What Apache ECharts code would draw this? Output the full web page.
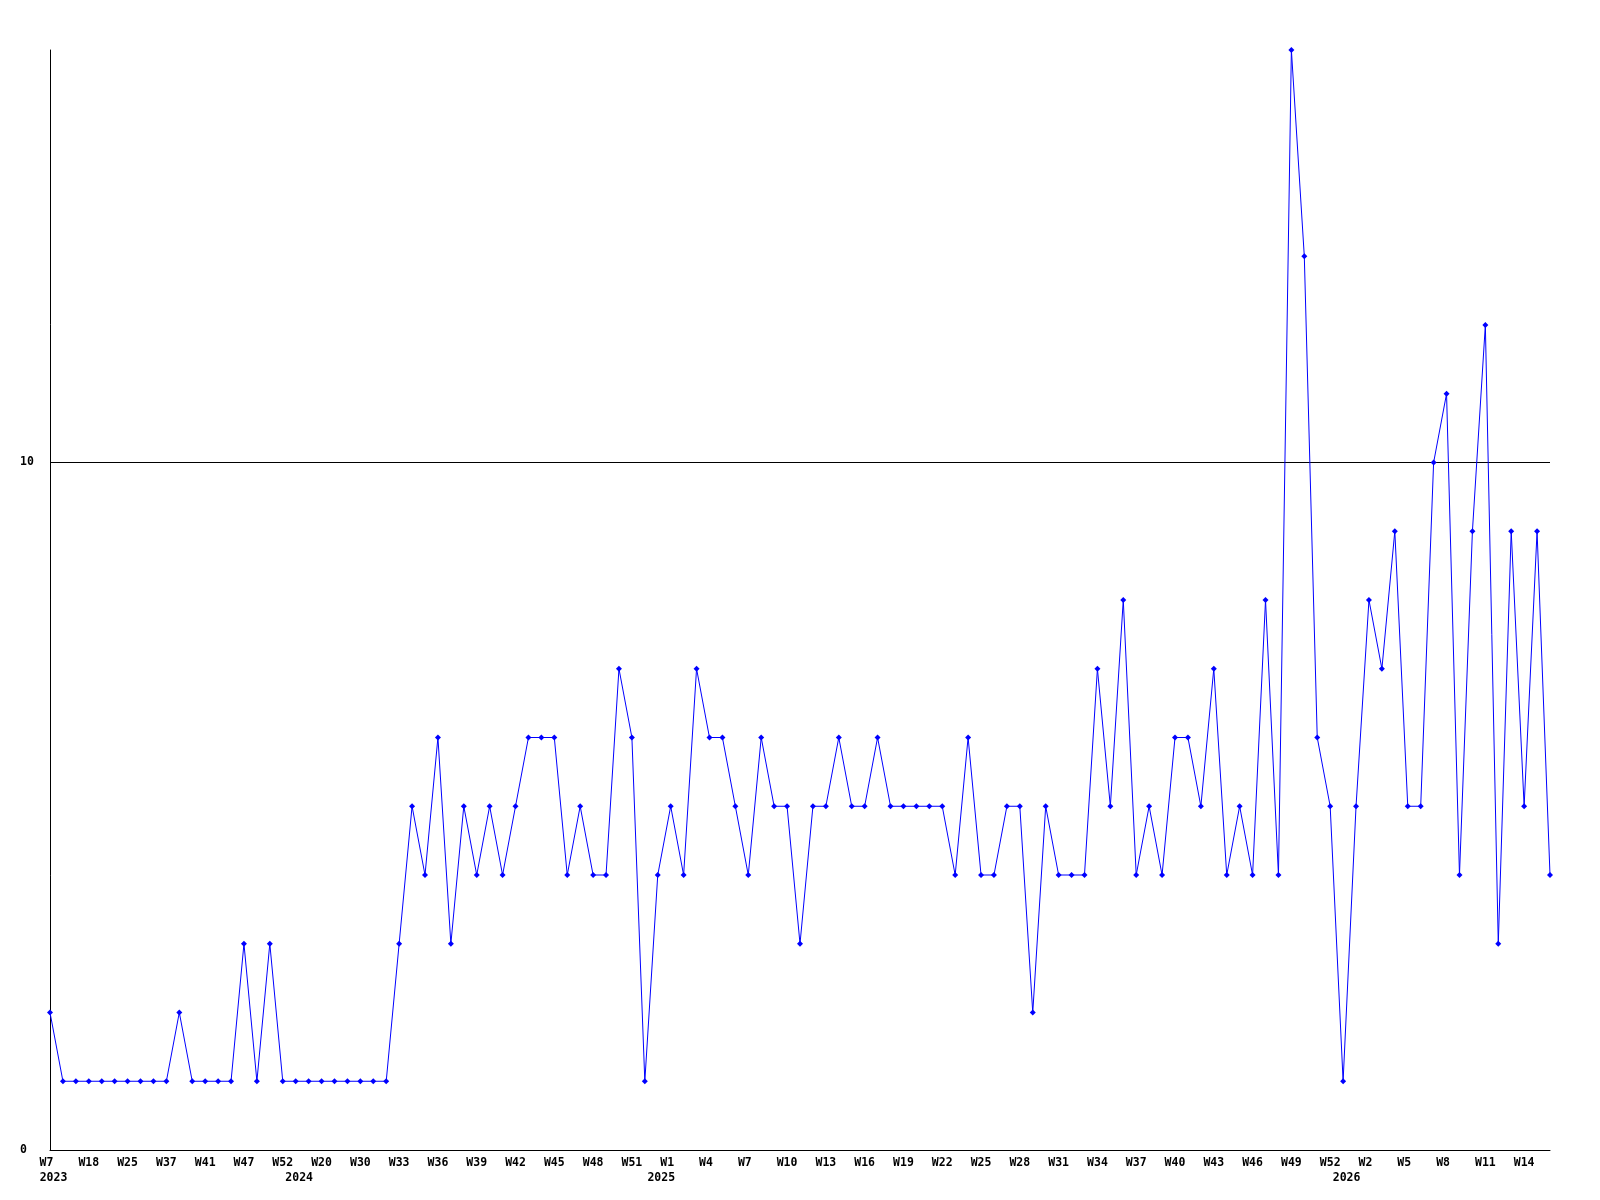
<!DOCTYPE html>
<html><head><meta charset="utf-8">
<script src="https://cdn.jsdelivr.net/npm/echarts@6/dist/echarts.min.js"></script>
<style>html,body{margin:0;padding:0;background:#fff}#c{width:1600px;height:1200px}</style>
</head><body><div id="c"></div>
<script>
// Week categories (only every 3rd is labelled in the chart)
const weeks = [
  // 2023
  'W7','W9','W14','W18','W20','W22','W25','W28','W33','W37','W38','W40','W41','W43','W45','W47','W49','W50','W52',
  // 2024
  'W3','W12','W20','W24','W27','W30','W31','W32','W33','W34','W35','W36','W37','W38','W39','W40','W41','W42','W43','W44','W45','W46','W47','W48','W49','W50','W51','W52',
  // 2025
  'W0','W1','W2','W3','W4','W5','W6','W7','W8','W9','W10','W11','W12','W13','W14','W15','W16','W17','W18','W19','W20','W21','W22','W23','W24','W25','W26','W27','W28','W29','W30','W31','W32','W33','W34','W35','W36','W37','W38','W39','W40','W41','W42','W43','W44','W45','W46','W47','W48','W49','W50','W51','W52',
  // 2026
  'W0','W1','W2','W3','W4','W5','W6','W7','W8','W9','W10','W11','W12','W13','W14','W15','W16'
];
// Year labels: [category index where the year starts, year]
const yearStarts = [[0,'2023'],[19,'2024'],[47,'2025'],[100,'2026']];
// Series values
const counts = [
  2,1,1,1,1,1,1,1,1,1,
  2,1,1,1,1,3,1,3,1,1,
  1,1,1,1,1,1,1,3,5,4,
  6,3,5,4,5,4,5,6,6,6,
  4,5,4,4,7,6,1,4,5,4,
  7,6,6,5,4,6,5,5,3,5,
  5,6,5,5,6,5,5,5,5,5,
  4,6,4,4,5,5,2,5,4,4,
  4,7,5,8,4,5,4,6,6,5,
  7,4,5,4,8,4,16,13,6,5,
  1,5,8,7,9,5,5,10,11,4,
  9,12,3,9,5,9,4
];
const yTickValues = [0, 10];

const yearAt = {};
yearStarts.forEach(p => { yearAt[p[0]] = p[1]; });
const FONT = '"DejaVu Sans Mono", "Liberation Mono", monospace';

const chart = echarts.init(document.getElementById('c'), null, {renderer: 'canvas'});
chart.setOption({
  animation: false,
  backgroundColor: '#ffffff',
  grid: {left: 50, right: 50, top: 50, bottom: 50, containLabel: false},
  xAxis: {
    type: 'category',
    data: weeks,
    boundaryGap: false,
    axisLine: {show: true, lineStyle: {color: '#000', width: 1}},
    axisTick: {show: false},
    splitLine: {show: false},
    axisLabel: {
      margin: 6,
      interval: function (idx) { return idx % 3 === 0 || yearAt[idx] !== undefined; },
      formatter: function (value, idx) {
        let top = (idx % 3 === 0) ? value : ' ';
        while (top.length < 3 && top !== ' ') top += ' ';
        let s = '{w|' + top + '}';
        if (yearAt[idx] !== undefined) s += '\n{y|' + yearAt[idx] + '}';
        return s;
      },
      rich: {
        w: {fontFamily: FONT, fontWeight: 'bold', fontSize: 11.5, lineHeight: 14.5, color: '#000'},
        y: {fontFamily: FONT, fontWeight: 'bold', fontSize: 11.5, lineHeight: 14.5, color: '#000', padding: [0, 0, 0, 7]}
      }
    }
  },
  yAxis: {
    type: 'value',
    min: 0,
    max: 16,
    interval: 10,
    axisLine: {show: true, lineStyle: {color: '#000', width: 1}},
    axisTick: {show: false},
    splitLine: {show: true, showMaxLine: false, lineStyle: {color: '#000', width: 1}},
    axisLabel: {
      showMaxLabel: false,
      align: 'left',
      margin: 30,
      color: '#000',
      fontFamily: FONT,
      fontWeight: 'bold',
      fontSize: 11.5,
      padding: [2, 0, 0, 0],
      formatter: function (v) { return yTickValues.indexOf(v) >= 0 ? String(v) : ''; }
    }
  },
  series: [{
    type: 'line',
    data: counts,
    smooth: false,
    symbol: 'diamond',
    symbolSize: 6,
    showAllSymbol: true,
    itemStyle: {color: '#0000ff'},
    lineStyle: {color: '#0000ff', width: 1}
  }]
});
</script>
</body></html>
